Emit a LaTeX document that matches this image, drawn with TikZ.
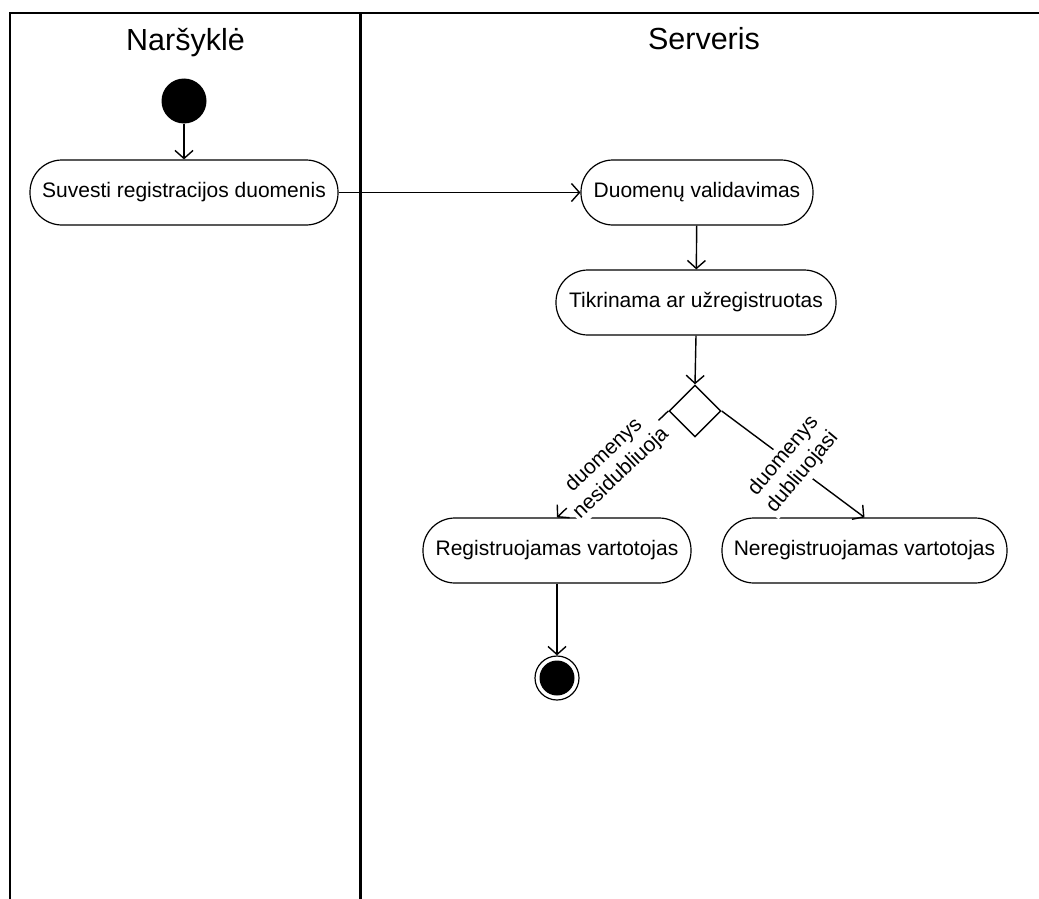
\documentclass[tikz,border=0pt]{standalone}
\usepackage{fontspec}
\setmainfont{Liberation Sans}
\usetikzlibrary{shapes.geometric, arrows.meta}

\begin{document}
\begin{tikzpicture}[x=1pt, y=-1pt,
  action/.style={draw, line width=1.2pt, rounded corners=32pt, inner sep=0pt,
    minimum height=65pt, font=\fontsize{21}{25}\selectfont},
  flow/.style={line width=1.4pt,
    -{Straight Barb[length=8pt, width=18pt, line width=1.4pt]}},
  guard/.style={fill=white, inner sep=2pt, align=center,
    font=\fontsize{21}{25}\selectfont},
  lanetitle/.style={anchor=base, font=\fontsize{30.5}{36}\selectfont},
  lane/.style={line width=2pt},
  lanediv/.style={line width=3pt}
]
\useasboundingbox (0,0) rectangle (1039,899);

% swimlanes
\draw[lane] (10,899) -- (10,13) -- (1039,13);
\draw[lanediv] (360,13) -- (360,899);
\node[lanetitle] (tbrowser) at (185.5,51) {Naršyklė};
\node[lanetitle] (tserver) at (704,50) {Serveris};

% start
\node[circle, fill=black, minimum size=45pt, inner sep=0pt] (start) at (184,101) {};

% activities
\node[action, minimum width=308pt] (input) at (184,192.5) {Suvesti registracijos duomenis};
\node[action, minimum width=232pt] (valid) at (697,192.5) {Duomenų validavimas};
\node[action, minimum width=280pt] (check) at (696,302.5) {Tikrinama ar užregistruotas};
\node[diamond, draw, line width=1.4pt, minimum width=52pt, minimum height=52pt,
  inner sep=0pt] (dec) at (695,411) {};
\node[action, minimum width=268pt] (reg) at (557,550.5) {Registruojamas vartotojas};
\node[action, minimum width=285pt] (noreg) at (864.5,550.5) {Neregistruojamas vartotojas};

% end
\node[circle, draw, line width=1.2pt, minimum size=44pt, inner sep=0pt,
  path picture={\fill (path picture bounding box.center) circle (17.5);}] (stop) at (557,678) {};

% flows
\draw[flow] (start) -- (input);
\draw[flow] (input) -- (valid);
\draw[flow] (valid) -- (check);
\draw[flow] (check.south) -- (dec.north);
\draw[flow] (dec.west) -- node[guard, rotate=43.4] {duomenys\\nesidubliuoja} (reg.north);
\draw[flow] (dec.east) -- node[guard, rotate=50] {duomenys\\dubliuojasi} (noreg.north);
\draw[flow] (reg) -- (stop);
\end{tikzpicture}
\end{document}
